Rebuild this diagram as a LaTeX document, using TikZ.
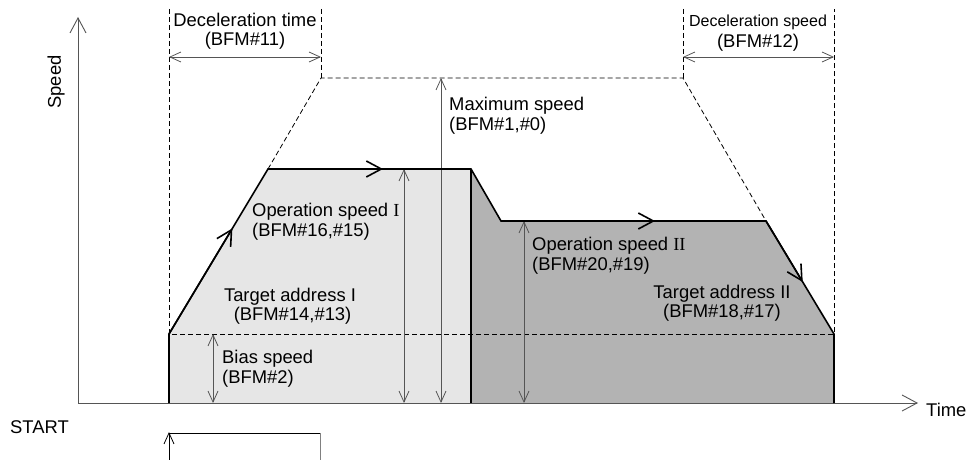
\documentclass[tikz,border=0pt]{standalone}
\usepackage{fontspec}
\setmainfont{Liberation Sans}
\newfontfamily\romfont{Liberation Serif}
\usetikzlibrary{arrows.meta,calc}
\definecolor{lightfill}{HTML}{E6E6E6}
\definecolor{darkfill}{HTML}{B3B3B3}
\definecolor{axisgray}{HTML}{555555}
\tikzset{
  prof/.style={line width=1.6pt, black},
  dashln/.style={dash pattern=on 5pt off 3pt, line width=0.8pt, black},
  dimarrow/.style={line width=0.8pt, axisgray, {Straight Barb[length=11pt,width=10pt]}-{Straight Barb[length=11pt,width=10pt]}},
  axisln/.style={line width=0.9pt, axisgray, -{Straight Barb[length=15pt,width=16pt]}},
  dirarrow/.style={prof, -{Straight Barb[length=15pt,width=16pt,line width=1.6pt]}},
  lbl/.style={inner sep=0pt, font=\fontsize{18.4}{19.5}\selectfont, align=left},
  lblc/.style={inner sep=0pt, font=\fontsize{18.4}{19.5}\selectfont, align=center},
}
\begin{document}
\begin{tikzpicture}[x=1pt,y=-1pt]
\useasboundingbox (0,0) rectangle (966,460);
% key points
\coordinate (o) at (78,403);
\coordinate (ytop) at (78,17);
\coordinate (xend) at (918,403);
\coordinate (s0) at (169,403);
\coordinate (s1) at (169,334);
\coordinate (s2) at (268,169);
\coordinate (s3) at (471,169);
\coordinate (s3b) at (471,403);
\coordinate (s4) at (501,221);
\coordinate (s5) at (766,221);
\coordinate (s6) at (834,334);
\coordinate (s7) at (834,403);
\coordinate (m1) at (321,78);
\coordinate (m2) at (683,78);
% fills
\fill[lightfill] (s0) -- (s1) -- (s2) -- (s3) -- (s3b) -- cycle;
\fill[darkfill] (s3b) -- (s3) -- (s4) -- (s5) -- (s6) -- (s7) -- cycle;
% dashed lines
\draw[dashln] (169,9) -- (s1) -- (s6) -- (834,9);
\draw[dashln] (s2) -- (m1) -- (m2) -- (s5);
\draw[dashln] (321,9) -- (m1);
\draw[dashln] (683,9) -- (m2);
% axes
\draw[axisln] (o) -- (ytop);
\draw[axisln] (o) -- (xend);
% dimension arrows
\coordinate (dt1) at (169,57);
\coordinate (dt2) at (321,57);
\coordinate (ds1) at (683,57);
\coordinate (ds2) at (834,57);
\draw[dimarrow] (dt1) -- (dt2);
\draw[dimarrow] (ds1) -- (ds2);
\draw[dimarrow] (441,403) -- (441,78);
\draw[dimarrow] (404,403) -- (404,169);
\draw[dimarrow] (213,403) -- (213,334);
\draw[dimarrow] (524,403) -- (524,221);
% profile
\draw[prof] (s0) -- (s1) -- (s2) -- (s3) -- (s4) -- (s5) -- (s6) -- (s7);
\draw[prof] (s3) -- (s3b);
% direction arrows
\draw[dirarrow] (s1) -- ($(s1)!0.64!(s2)$);
\draw[dirarrow] (s2) -- (383,169);
\draw[dirarrow] (s4) -- (655,221);
\draw[dirarrow] (s5) -- ($(s5)!0.54!(s6)$);
% START pulse
\coordinate (p0) at (169,460);
\coordinate (p1) at (169,432);
\coordinate (p2) at (320,433);
\coordinate (p3) at (320,460);
\draw[line width=0.8pt, black, -{Straight Barb[length=11pt,width=10pt]}] (p0) -- (p1);
\draw[line width=0.8pt, black] (169,433) -- (p2);
\draw[line width=1pt, gray] (p2) -- (p3);
% labels
\node[lbl, rotate=90] (speed) at (56,82) {Speed};
\node[lbl, anchor=west] (time) at (926,410) {Time};
\node[lbl, anchor=west] (start) at (10,427) {START};
\node[lblc] (dtime) at (245,31) {Deceleration time\\(BFM\#11)};
\node[lblc, font=\fontsize{16}{20.5}\selectfont] (dspeed) at (758,33) {Deceleration speed\\\fontsize{18.4}{19.5}\selectfont(BFM\#12)};
\node[lbl, anchor=north west] (maxs) at (449,97) {Maximum speed\\(BFM\#1,\#0)};
\node[lbl, anchor=north west] (op1) at (252,203) {Operation speed {\romfont I}\\(BFM\#16,\#15)};
\node[lblc] (ta1) at (290,306) {Target address I\\\;(BFM\#14,\#13)};
\node[lbl, anchor=north west] (bias) at (222,350) {Bias speed\\(BFM\#2)};
\node[lbl, anchor=north west] (op2) at (532,237) {Operation speed {\romfont II}\\(BFM\#20,\#19)};
\node[lblc] (ta2) at (722,303) {Target address II\\(BFM\#18,\#17)};
\end{tikzpicture}
\end{document}
